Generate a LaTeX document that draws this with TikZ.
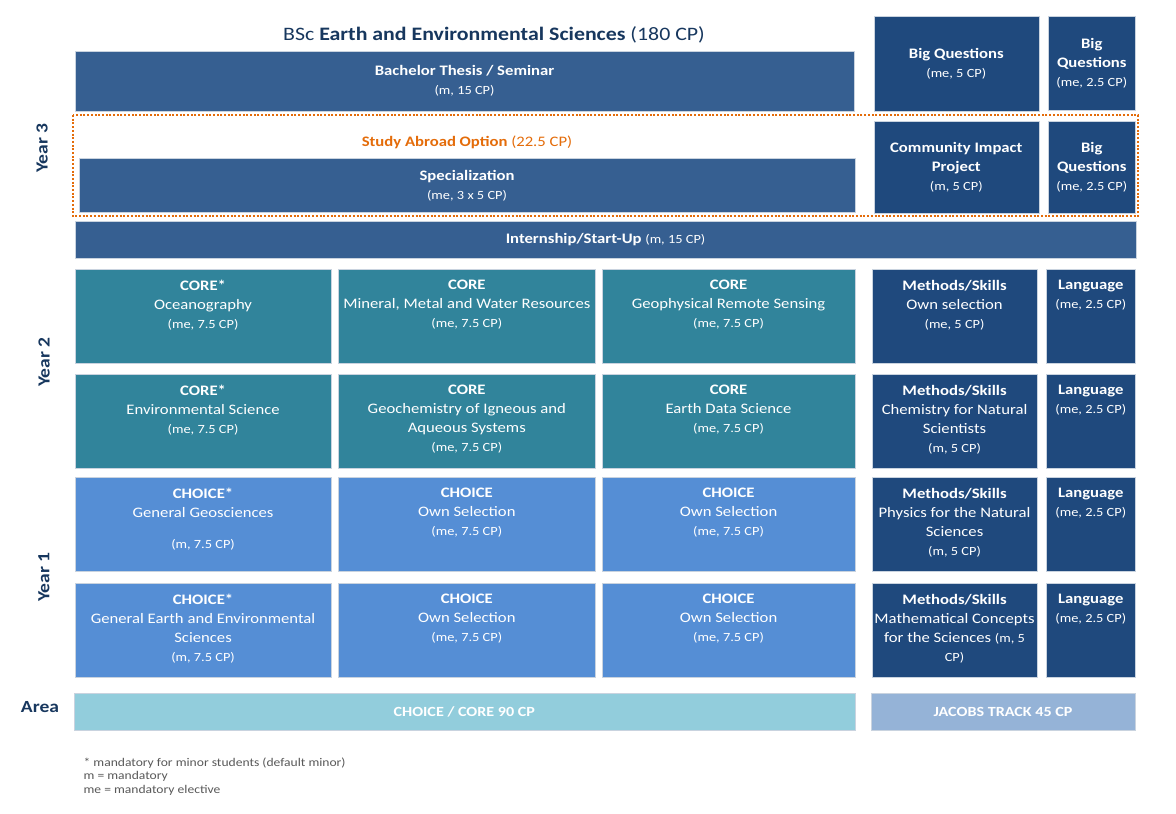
\documentclass[tikz,border=0pt]{standalone}
\usepackage{fontspec}
\setmainfont{Carlito}[FakeStretch=1.15]
\usetikzlibrary{positioning}

\definecolor{thesisblue}{HTML}{365F91}
\definecolor{trackblue}{HTML}{1F497D}
\definecolor{coreteal}{HTML}{31849B}
\definecolor{choiceblue}{HTML}{558ED5}
\definecolor{areacyan}{HTML}{92CDDC}
\definecolor{jacobsblue}{HTML}{95B3D7}
\definecolor{abroadorange}{HTML}{E46C0A}
\definecolor{titlenavy}{HTML}{17375E}
\definecolor{notegray}{HTML}{595959}
\definecolor{boxline}{HTML}{C9D3DF}

\newcommand{\cpnote}[1]{{\fontsize{12.5}{19}\selectfont #1}}

\tikzset{
  box/.style={rectangle, draw=boxline, line width=0.6pt, anchor=north west,
    inner sep=0pt, text=white, align=center, font=\fontsize{14.5}{19}\selectfont},
  thesisbox/.style={box, fill=thesisblue},
  trackbox/.style={box, fill=trackblue},
  corebox/.style={box, fill=coreteal},
  choicebox/.style={box, fill=choiceblue},
  areabox/.style={box, font=\fontsize{14}{17}\selectfont\bfseries},
  boxtext/.style={inner sep=0pt, text=white, align=center,
    font=\fontsize{14.5}{19}\selectfont, execute at begin node={\rule{0pt}{11pt}}},
  yearlabel/.style={rotate=90, text=titlenavy, font=\fontsize{17}{20}\selectfont\bfseries},
  abroad/.style={draw=abroadorange, line width=2pt, dash pattern=on 2pt off 1.7pt}
}

\begin{document}
\begin{tikzpicture}[x=1pt,y=-1pt]
  \fill[white] (0,0) rectangle (1176,814);
  \useasboundingbox (0,0) rectangle (1176,814);

  % Title
  \node[text=titlenavy, anchor=base, font=\fontsize{19}{22}\selectfont] (title) at (494,40)
    {BSc \textbf{Earth and Environmental Sciences} (180 CP)};

  % Year 3
  \node[yearlabel] (year3) at (42,148) {Year 3};
  \node[thesisbox, minimum width=779.5, minimum height=60] (thesis) at (74.5,50.7)
    {\textbf{Bachelor Thesis / Seminar}\\\cpnote{(m, 15 CP)}};
  \node[trackbox, minimum width=165, minimum height=95] (bigqa) at (873.5,15.7)
    {\textbf{Big Questions}\\\cpnote{(me, 5 CP)}};
  \node[trackbox, minimum width=87, minimum height=94] (bigqb) at (1048,15.7)
    {\textbf{Big}\\\textbf{Questions}\\\cpnote{(me, 2.5 CP)}};
  \draw[abroad] (72.7,115) rectangle (1138,216);
  \node[text=abroadorange, anchor=base, font=\fontsize{14.5}{19}\selectfont] (abroadtxt) at (467,146.7)
    {\textbf{Study Abroad Option} (22.5 CP)};
  \node[thesisbox, minimum width=776.5, minimum height=54] (special) at (78.5,158)
    {\textbf{Specialization}\\\cpnote{(me, 3 x 5 CP)}};
  \node[trackbox, minimum width=165, minimum height=92] (cip) at (873.5,121)
    {\textbf{Community Impact}\\\textbf{Project}\\\cpnote{(m, 5 CP)}};
  \node[trackbox, minimum width=87, minimum height=92] (bigqc) at (1048,121)
    {\textbf{Big}\\\textbf{Questions}\\\cpnote{(me, 2.5 CP)}};
  \node[thesisbox, minimum width=1061.5, minimum height=37] (intern) at (74.5,221)
    {\textbf{Internship/Start-Up} \cpnote{(m, 15 CP)}};

  % Year 2
  \node[yearlabel] (year2) at (44,362) {Year 2};
  \node[corebox, minimum width=256.5, minimum height=94] (ocean) at (74.5,269) {};
  \node[boxtext, below=11pt of ocean.north] (oceantxt)
    {\textbf{CORE*}\\Oceanography\\\cpnote{(me, 7.5 CP)}};
  \node[corebox, minimum width=257, minimum height=94] (mineral) at (338,269) {};
  \node[boxtext, below=11pt of mineral.north] (mineraltxt)
    {\textbf{CORE}\\Mineral, Metal and Water Resources\\\cpnote{(me, 7.5 CP)}};
  \node[corebox, minimum width=253.5, minimum height=94] (geophys) at (601.5,269) {};
  \node[boxtext, below=11pt of geophys.north] (geophystxt)
    {\textbf{CORE}\\Geophysical Remote Sensing\\\cpnote{(me, 7.5 CP)}};
  \node[trackbox, minimum width=165.5, minimum height=94] (methodsa) at (871.5,269) {};
  \node[boxtext, below=11pt of methodsa.north] (methodsatxt)
    {\textbf{Methods/Skills}\\Own selection\\\cpnote{(me, 5 CP)}};
  \node[trackbox, minimum width=89, minimum height=94] (langa) at (1046,269) {};
  \node[boxtext, below=11pt of langa.north] (langatxt)
    {\textbf{Language}\\\cpnote{(me, 2.5 CP)}};

  \node[corebox, minimum width=256.5, minimum height=93.5] (envsci) at (74.5,374) {};
  \node[boxtext, below=11pt of envsci.north] (envscitxt)
    {\textbf{CORE*}\\Environmental Science\\\cpnote{(me, 7.5 CP)}};
  \node[corebox, minimum width=257, minimum height=93.5] (geochem) at (338,374) {};
  \node[boxtext, below=11pt of geochem.north] (geochemtxt)
    {\textbf{CORE}\\Geochemistry of Igneous and\\Aqueous Systems\\\cpnote{(me, 7.5 CP)}};
  \node[corebox, minimum width=253.5, minimum height=93.5] (eds) at (601.5,374) {};
  \node[boxtext, below=11pt of eds.north] (edstxt)
    {\textbf{CORE}\\Earth Data Science\\\cpnote{(me, 7.5 CP)}};
  \node[trackbox, minimum width=165.5, minimum height=93.5] (methodsb) at (871.5,374) {};
  \node[boxtext, below=11pt of methodsb.north] (methodsbtxt)
    {\textbf{Methods/Skills}\\Chemistry for Natural\\Scientists\\\cpnote{(m, 5 CP)}};
  \node[trackbox, minimum width=89, minimum height=93.5] (langb) at (1046,374) {};
  \node[boxtext, below=11pt of langb.north] (langbtxt)
    {\textbf{Language}\\\cpnote{(me, 2.5 CP)}};

  % Year 1
  \node[yearlabel] (year1) at (44,577) {Year 1};
  \node[choicebox, minimum width=256.5, minimum height=94] (gengeo) at (74.5,477) {};
  \node[boxtext, below=11pt of gengeo.north] (gengeotxt)
    {\textbf{CHOICE*}\\General Geosciences\\[12pt]\cpnote{(m, 7.5 CP)}};
  \node[choicebox, minimum width=257, minimum height=94] (owna) at (338,477) {};
  \node[boxtext, below=11pt of owna.north] (ownatxt)
    {\textbf{CHOICE}\\Own Selection\\\cpnote{(me, 7.5 CP)}};
  \node[choicebox, minimum width=253.5, minimum height=94] (ownb) at (601.5,477) {};
  \node[boxtext, below=11pt of ownb.north] (ownbtxt)
    {\textbf{CHOICE}\\Own Selection\\\cpnote{(me, 7.5 CP)}};
  \node[trackbox, minimum width=165.5, minimum height=94] (methodsc) at (871.5,477) {};
  \node[boxtext, below=11pt of methodsc.north] (methodsctxt)
    {\textbf{Methods/Skills}\\Physics for the Natural\\Sciences\\\cpnote{(m, 5 CP)}};
  \node[trackbox, minimum width=89, minimum height=94] (langc) at (1046,477) {};
  \node[boxtext, below=11pt of langc.north] (langctxt)
    {\textbf{Language}\\\cpnote{(me, 2.5 CP)}};

  \node[choicebox, minimum width=256.5, minimum height=94] (geneess) at (74.5,583) {};
  \node[boxtext, below=11pt of geneess.north] (geneesstxt)
    {\textbf{CHOICE*}\\General Earth and Environmental\\Sciences\\\cpnote{(m, 7.5 CP)}};
  \node[choicebox, minimum width=257, minimum height=94] (ownc) at (338,583) {};
  \node[boxtext, below=11pt of ownc.north] (ownctxt)
    {\textbf{CHOICE}\\Own Selection\\\cpnote{(me, 7.5 CP)}};
  \node[choicebox, minimum width=253.5, minimum height=94] (ownd) at (601.5,583) {};
  \node[boxtext, below=11pt of ownd.north] (owndtxt)
    {\textbf{CHOICE}\\Own Selection\\\cpnote{(me, 7.5 CP)}};
  \node[trackbox, minimum width=165.5, minimum height=94] (methodsd) at (871.5,583) {};
  \node[boxtext, below=11pt of methodsd.north] (methodsdtxt)
    {\textbf{Methods/Skills}\\Mathematical Concepts\\for the Sciences \cpnote{(m, 5}\\\cpnote{CP)}};
  \node[trackbox, minimum width=89, minimum height=94] (langd) at (1046,583) {};
  \node[boxtext, below=11pt of langd.north] (langdtxt)
    {\textbf{Language}\\\cpnote{(me, 2.5 CP)}};

  % Area
  \node[text=titlenavy, anchor=base, font=\fontsize{17}{20}\selectfont\bfseries] (area) at (40,712) {Area};
  \node[areabox, fill=areacyan, minimum width=781, minimum height=37.3] (choicecore) at (73.5,692.7)
    {CHOICE / CORE 90 CP};
  \node[areabox, fill=jacobsblue, minimum width=264.5, minimum height=37.3] (jacobs) at (870.5,692.7)
    {JACOBS TRACK 45 CP};

  % Notes
  \node[text=notegray, anchor=north west, align=left, inner sep=0pt,
    font=\fontsize{11.8}{13.6}\selectfont] (notes) at (83.4,757.5)
    {* mandatory for minor students (default minor)\\m = mandatory\\me = mandatory elective};
\end{tikzpicture}
\end{document}
